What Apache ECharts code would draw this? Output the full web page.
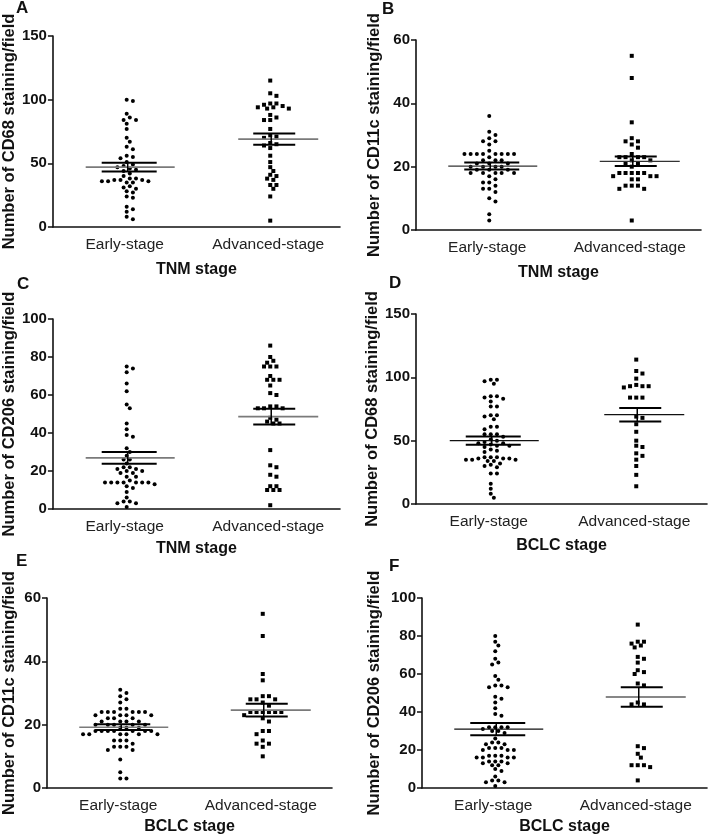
<!DOCTYPE html>
<html><head><meta charset="utf-8">
<script src="https://cdn.jsdelivr.net/npm/echarts@6/dist/echarts.min.js"></script>
<style>html,body{margin:0;padding:0;background:#fff}#c{width:709px;height:838px}</style>
</head><body><div id="c"></div>
<script>
// ---------- data ----------
const categories = ['Early-stage', 'Advanced-stage'];

const A_early = [100,99,89,86,84,84,81,77,70,67,63,61,56,55,54,51,49,48,47,46,45,44,42,40,38,38,37,37,37,36,36,36,35,35,32,31,30,28,27,24,23,16,14,12,8,6];
const A_adv   = [115,105,103,97,97,96,95,94,94,93,93,88,86,84,84,77,72,71,70,66,65,64,62,56,51,47,44,41,40,38,37,33,33,30,24,5];
const A_mean  = [47, 69];
const A_sem   = [3.5, 4.5];

const B_early = [36,31,30,29,28,28,27,25,24,24,24,24,24,24,24,24,23,22,22,22,21,21,21,20,20,20,20,19,19,19,18,18,18,18,18,17,16,15,15,14,13,13,12,10,9,5,3];
const B_adv   = [55,48,34,29,28,28,27,26,24,23,23,23,23,22,22,21,21,20,18,18,18,18,18,17,17,17,16,16,14,14,14,13,13,3];
const B_mean  = [20.2, 21.7];
const B_sem   = [1.1, 1.5];

const C_early = [75,74,72,66,62,55,53,45,42,39,38,32,30,28,26,26,24,22,22,21,21,20,20,19,19,17,17,15,14,14,14,14,14,14,14,13,12,11,9,6,4,4,3,3,1];
const C_adv   = [86,80,78,77,75,75,75,70,68,68,68,65,61,60,54,54,53,53,53,48,47,46,45,45,31,23,22,18,17,12,12,10,10,10,2];
const C_mean  = [26.9, 48.6];
const C_sem   = [3.1, 4.1];

const D_early = [98,98,97,95,85,85,84,83,81,77,77,70,70,69,67,61,61,59,55,55,55,53,51,50,49,48,48,47,46,46,45,43,42,41,37,37,37,36,36,36,35,35,35,34,34,32,31,30,29,24,24,16,12,8,5];
const D_adv   = [114,105,103,99,94,93,93,93,92,84,84,84,69,68,63,57,50,46,45,40,38,35,30,23,14];
const D_mean  = [50, 70.5];
const D_sem   = [3.3, 5.3];

const E_early = [31,30,29,28,27,25,25,24,24,24,24,24,24,23,23,23,23,22,22,22,21,21,21,21,20,20,20,20,20,19,19,19,18,18,18,18,18,18,18,17,17,17,17,17,17,15,15,15,14,13,13,13,12,12,9,5,3,3];
const E_adv   = [55,48,36,34,29,29,28,28,28,27,26,24,24,24,24,24,24,23,22,21,18,18,17,15,14,14,13,10];
const E_mean  = [19.2, 24.6];
const E_sem   = [0.9, 2.0];

const F_early = [80,77,75,72,68,66,65,59,57,54,54,53,53,48,47,45,42,39,38,32,32,32,32,31,30,30,29,26,24,24,23,23,21,21,21,20,20,20,17,17,17,16,16,16,16,14,14,14,13,13,12,12,10,9,6,4,4,3,3,1];
const F_adv   = [86,77,77,76,75,74,69,68,66,62,61,60,55,54,45,44,44,22,21,18,16,12,12,12,11,4];
const F_mean  = [31, 47.9];
const F_sem   = [3.2, 5.1];

const yTitles = ['Number of CD68 staining/field','Number of CD11c staining/field','Number of CD206 staining/field',
                 'Number of CD68 staining/field','Number of CD11c staining/field','Number of CD206 staining/field'];
const xTitles = ['TNM stage','TNM stage','TNM stage','BCLC stage','BCLC stage','BCLC stage'];
const letters = ['A','B','C','D','E','F'];
const yMaxes = [150, 60, 100, 150, 60, 100];
const yIntervals = [50, 20, 20, 50, 20, 20];

// ---------- layout / style ----------
const panels = [
  {grid:{left:50, top:36, width:290, height:191}, letter:[16,0], yGap:34, xGap:35, meanColor:'#7a7a7a', mw:1.6,
   early:A_early, adv:A_adv, mean:A_mean, sem:A_sem},
  {grid:{left:416, top:40, width:285, height:190}, letter:[382,1], yGap:33, xGap:35, meanColor:'#333', mw:1.2,
   early:B_early, adv:B_adv, mean:B_mean, sem:B_sem},
  {grid:{left:50, top:319, width:290, height:190}, letter:[17,276], yGap:34, xGap:32, meanColor:'#7a7a7a', mw:1.6,
   early:C_early, adv:C_adv, mean:C_mean, sem:C_sem},
  {grid:{left:416, top:314, width:291, height:190}, letter:[389,275], yGap:33, xGap:34, meanColor:'#111', mw:1.2,
   early:D_early, adv:D_adv, mean:D_mean, sem:D_sem},
  {grid:{left:45, top:598, width:287, height:190}, letter:[16,553], yGap:29, xGap:31, meanColor:'#7a7a7a', mw:1.6,
   early:E_early, adv:E_adv, mean:E_mean, sem:E_sem},
  {grid:{left:422, top:598, width:285, height:190}, letter:[389,558], yGap:39, xGap:31, meanColor:'#111', mw:1.2,
   early:F_early, adv:F_adv, mean:F_mean, sem:F_sem}
];

const FONT = '"Liberation Sans", Arial, Helvetica, sans-serif';
const STEP = 3.1;    // candidate horizontal step (half the in-row spacing), px
const COLL = 4.6;    // minimum centre distance between dots, px

// beeswarm layout: returns x offsets in px for each value (given y scale)
function swarm(values, pxPerUnit) {
  const idx = values.map((v, i) => i).sort((a, b) => values[b] - values[a]);
  const placed = [];
  const offs = new Array(values.length).fill(0);
  idx.forEach(i => {
    const y = values[i] * pxPerUnit;
    for (let k = 0; k < 80; k++) {
      const x = Math.ceil(k / 2) * (k % 2 === 1 ? 1 : -1) * STEP;
      let ok = true;
      for (const p of placed) {
        const dx = p[0] - x, dy = p[1] - y;
        if (dx * dx + dy * dy < COLL * COLL - 1e-6) { ok = false; break; }
      }
      if (ok) { placed.push([x, y]); offs[i] = x; break; }
    }
  });
  return offs;
}

const grids = [], xAxes = [], yAxes = [], series = [], titles = [];

panels.forEach((p, pi) => {
  grids.push(Object.assign({containLabel:false}, p.grid));
  xAxes.push({
    type:'category', gridIndex:pi, data:categories,
    name:xTitles[pi], nameLocation:'middle', nameGap:p.xGap,
    nameTextStyle:{fontFamily:FONT, fontWeight:'bold', fontSize:16, color:'#111'},
    axisLine:{lineStyle:{color:'#111', width:1.6}},
    axisTick:{alignWithLabel:true, length:5, lineStyle:{color:'#111', width:1.5}},
    axisLabel:{interval:0, fontFamily:FONT, fontSize:15.5, color:'#222', margin:10},
    splitLine:{show:false}
  });
  yAxes.push({
    type:'value', gridIndex:pi, min:0, max:yMaxes[pi], interval:yIntervals[pi],
    name:yTitles[pi], nameLocation:'middle', nameGap:p.yGap, nameRotate:90,
    nameTextStyle:{fontFamily:FONT, fontWeight:'bold', fontSize:16.5, color:'#111'},
    axisLine:{show:true, lineStyle:{color:'#111', width:1.6}},
    axisTick:{show:true, length:5, lineStyle:{color:'#111', width:1.5}},
    axisLabel:{fontFamily:FONT, fontWeight:'bold', fontSize:15, color:'#111', margin:6},
    splitLine:{show:false}
  });
  const pxPerUnit = p.grid.height / yMaxes[pi];
  const groups = [p.early, p.adv];
  groups.forEach((vals, gi) => {
    const offs = swarm(vals, pxPerUnit);
    series.push({
      type:'custom', xAxisIndex:pi, yAxisIndex:pi, z:2, silent:true,
      data: vals.map((v, i) => [gi, v, offs[i]]),
      renderItem: function (params, api) {
        const c = api.coord([api.value(0), api.value(1)]);
        const x = c[0] + 2 + api.value(2), y = c[1];
        if (gi === 0) return {type:'circle', shape:{cx:x, cy:y, r:2.0}, style:{fill:'#000'}};
        return {type:'rect', shape:{x:x - 2.0, y:y - 2.0, width:4.0, height:4.0}, style:{fill:'#000'}};
      }
    });
  });
  series.push({
    type:'custom', xAxisIndex:pi, yAxisIndex:pi, z:5, silent:true,
    data: p.mean.map((m, gi) => [gi, m, p.sem[gi]]),
    renderItem: function (params, api) {
      const gi = api.value(0), m = api.value(1), s = api.value(2);
      const c = api.coord([gi, m]), up = api.coord([gi, m + s]), lo = api.coord([gi, m - s]);
      const cx = c[0] + 3;
      const mh = gi === 0 ? [-42, 47] : [-33, 47];
      const sh = gi === 0 ? [-26, 29] : [-18, 24];
      return {type:'group', children:[
        {type:'line', shape:{x1:cx + mh[0], y1:c[1], x2:cx + mh[1], y2:c[1]}, style:{stroke:p.meanColor, lineWidth:p.mw}},
        {type:'line', shape:{x1:cx + sh[0], y1:up[1], x2:cx + sh[1], y2:up[1]}, style:{stroke:'#000', lineWidth:2}},
        {type:'line', shape:{x1:cx + sh[0], y1:lo[1], x2:cx + sh[1], y2:lo[1]}, style:{stroke:'#000', lineWidth:2}},
        {type:'line', shape:{x1:cx, y1:up[1], x2:cx, y2:lo[1]}, style:{stroke:'#000', lineWidth:1.5}}
      ]};
    }
  });
  titles.push({text:letters[pi], left:p.letter[0], top:p.letter[1], padding:0,
    textStyle:{fontFamily:FONT, fontWeight:'bold', fontSize:17, color:'#111'}});
});

const chart = echarts.init(document.getElementById('c'), null, {renderer:'canvas'});
chart.setOption({
  backgroundColor:'#fff', animation:false,
  title:titles, grid:grids, xAxis:xAxes, yAxis:yAxes, series:series
});
</script>
</body></html>
